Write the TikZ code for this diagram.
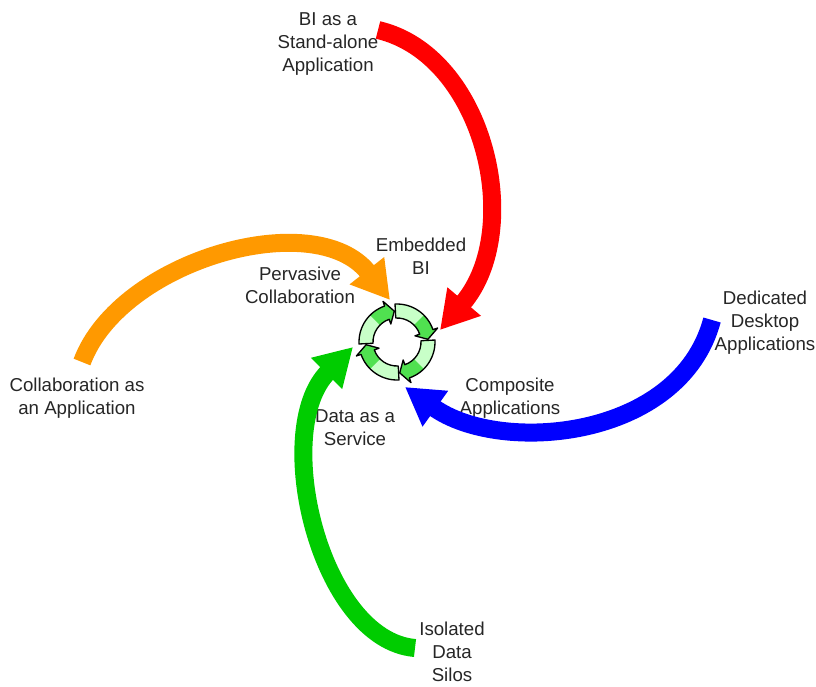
\documentclass[tikz,border=0pt]{standalone}
\usepackage{fontspec}
\setmainfont{Liberation Sans}
\usetikzlibrary{arrows.meta}

\definecolor{arrred}{RGB}{255,0,0}
\definecolor{arrorange}{RGB}{255,153,0}
\definecolor{arrblue}{RGB}{0,0,255}
\definecolor{arrgreen}{RGB}{0,204,0}
\definecolor{ringlight}{RGB}{200,255,200}
\definecolor{ringdark}{RGB}{80,225,80}

\tikzset{
  bigarrow/.style={line width=13.5pt, -{Triangle[width=31pt,length=28pt]}},
  lbl/.style={align=center, text=black!85, font=\fontsize{14}{17.25}\selectfont},
  ringpart/.style={fill=ringlight},
  ringhead/.style={fill=ringdark},
  ringline/.style={draw=black, line width=1pt, line join=round},
}

\begin{document}
\begin{tikzpicture}[x=0.75pt,y=0.75pt]
  \useasboundingbox (0,0) rectangle (816,-686);
  % Tell it where the labels are
  \node[lbl] (standalone) at (328,-44) {BI as a\\Stand-alone\\Application};
  \node[lbl] (embedded) at (421,-256) {Embedded\\BI};
  \node[lbl] (pervasive) at (300,-285) {Pervasive\\Collaboration};
  \node[lbl] (collabapp) at (77,-398) {Collaboration as\\an Application};
  \node[lbl] (desktop) at (765,-323) {Dedicated\\Desktop\\Applications};
  \node[lbl] (composite) at (510,-398) {Composite\\Applications};
  \node[lbl] (dataservice) at (355,-428) {Data as a\\Service};
  \node[lbl] (silos) at (452,-652) {Isolated\\Data\\Silos};
  % Tell it where the arrows start and end
  \coordinate (ring) at (397,-342);
  \coordinate (redS) at (378,-30);
  \coordinate (redE) at (440,-330);
  \coordinate (orangeS) at (82,-362);
  \coordinate (orangeE) at (390,-300);
  \coordinate (blueS) at (712,-320);
  \coordinate (blueE) at (405,-387);
  \coordinate (greenS) at (415,-648);
  \coordinate (greenE) at (353,-347);
  % Tell it what arrows to draw
  \draw[bigarrow, arrred] (redS) .. controls (485,-55) and (525,-230) .. (redE);
  \draw[bigarrow, arrorange] (orangeS) .. controls (120,-260) and (315,-205) .. (orangeE);
  \draw[bigarrow, arrblue] (blueS) .. controls (680,-440) and (500,-455) .. (blueE);
  \draw[bigarrow, arrgreen] (greenS) .. controls (320,-640) and (270,-430) .. (greenE);
  % the small cycle in the middle
  \foreach \t in {95,5,-85,-175} {
    \fill[ringpart, shift={(ring)}] (\t+88:24) arc[start angle=\t+88, end angle=\t+14, radius=24]
      -- (\t+14:19) -- (\t:31) -- (\t+14:43) -- (\t+14:38)
      arc[start angle=\t+14, end angle=\t+88, radius=38] -- cycle;
    \fill[ringhead, shift={(ring)}] (\t+40:24) arc[start angle=\t+40, end angle=\t+14, radius=24]
      -- (\t+14:19) -- (\t:31) -- (\t+14:43) -- (\t+14:38)
      arc[start angle=\t+14, end angle=\t+40, radius=38] -- cycle;
    \draw[ringline, shift={(ring)}] (\t+88:24) arc[start angle=\t+88, end angle=\t+14, radius=24]
      -- (\t+14:19) -- (\t:31) -- (\t+14:43) -- (\t+14:38)
      arc[start angle=\t+14, end angle=\t+88, radius=38] -- cycle;
  }
\end{tikzpicture}
\end{document}
